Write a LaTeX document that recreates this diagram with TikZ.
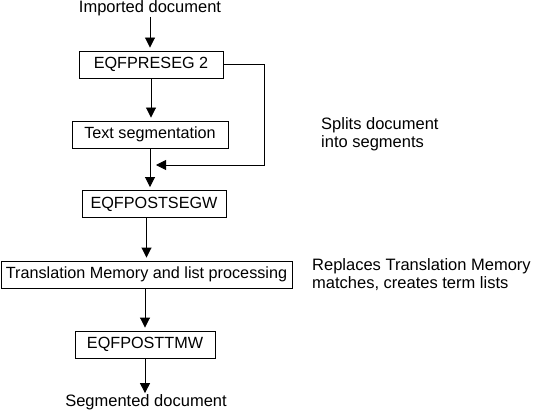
\documentclass[tikz,border=0pt]{standalone}
\usepackage{fontspec}
\setmainfont{Liberation Sans}
\usetikzlibrary{arrows.meta,positioning}
\tikzset{
  stepbox/.style={draw, line width=0.9pt, minimum height=27pt, inner sep=2pt, font=\fontsize{16.2}{18}\selectfont},
  plaintext/.style={inner sep=1pt, font=\fontsize{16.5}{18}\selectfont},
  note/.style={anchor=west, align=left, inner sep=0pt, font=\fontsize{16.5}{18}\selectfont},
  flow/.style={-{Triangle[length=10pt,width=10pt]}, line width=0.9pt, shorten >=3pt}
}
\begin{document}
\begin{tikzpicture}[x=1pt, y=-1pt]
    \useasboundingbox (0,0) rectangle (540,414);
    \node[plaintext] (imp) at (150,8) {Imported document};
    \node[stepbox, minimum width=144pt] (pre) at (151,64.5) {EQFPRESEG 2};
    \node[stepbox, minimum width=156pt] (seg) at (150,134.5) {Text segmentation};
    \node[stepbox, minimum width=144pt] (post) at (154,204) {EQFPOSTSEGW};
    \node[stepbox, minimum width=291pt] (tm) at (146.5,274.5) {Translation Memory and list processing};
    \node[stepbox, minimum width=140pt] (ttm) at (145,344.5) {EQFPOSTTMW};
    \node[plaintext] (out) at (146,402) {Segmented document};
    \node[note] (splits) at (321,134) {Splits document\\into segments};
    \node[note] (repl) at (312,275) {Replaces Translation Memory\\matches, creates term lists};
    \coordinate (merge) at (156,165);
    \draw[flow] (imp) -- (imp |- pre.north);
    \draw[flow] (pre.south) -- (pre.south |- seg.north);
    \draw[flow] (seg.south) -- (seg.south |- post.north);
    \draw[flow] (post.south -| tm) -- (tm.north);
    \draw[flow] (tm.south -| ttm) -- (ttm.north);
    \draw[flow, shorten >=0pt] (ttm.south) -- (ttm.south |- out.north);
    \draw[flow, shorten >=0pt] (pre.east) -- ++(41,0) |- (merge);
\end{tikzpicture}
\end{document}
